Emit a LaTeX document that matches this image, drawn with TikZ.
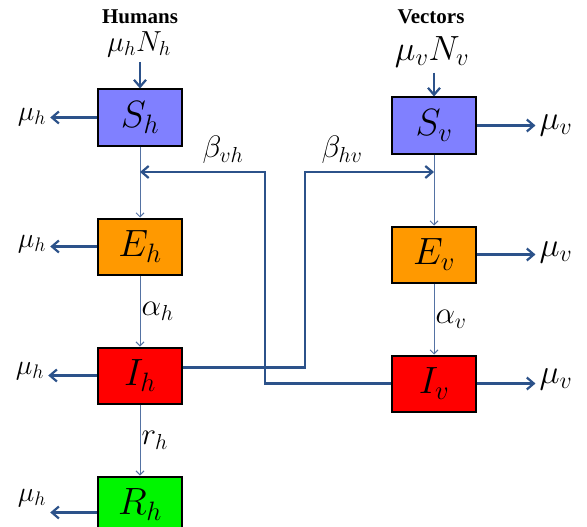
\documentclass[tikz,border=0pt]{standalone}
\usepackage{fix-cm}
\usepackage{fontspec}
\newfontfamily\titlefont{Liberation Serif}
\usetikzlibrary{arrows.meta,positioning}
\definecolor{flowblue}{RGB}{44,82,138}
\definecolor{thinblue}{RGB}{84,114,163}
\definecolor{suscblue}{RGB}{128,128,255}
\definecolor{expoorange}{RGB}{255,153,0}
\definecolor{infred}{RGB}{255,0,0}
\definecolor{recgreen}{RGB}{0,245,0}
\begin{document}
\begin{tikzpicture}[
    x=1pt, y=-1pt,
    node distance=71pt,
    >={Straight Barb[length=7pt,width=12pt]},
    comp/.style={
        draw=black,
        line width=2pt,
        minimum width=84pt,
        minimum height=56pt,
        inner sep=0pt,
        font=\fontsize{38}{40}\selectfont
    },
    flow/.style={->, line width=2.2pt, flowblue},
    pass/.style={->, line width=1pt, thinblue,
        >={Straight Barb[length=4pt,width=8pt]}},
    lbl/.style={inner sep=4pt, text=black, font=\fontsize{31}{33}\selectfont},
    title/.style={font=\titlefont\bfseries\fontsize{21}{22}\selectfont}
]
\useasboundingbox (0,0) rectangle (587,527);

% titles
\node[title] (hum) at (140,17) {Humans};
\node[title] (vec) at (431,17) {Vectors};

% human compartments
\node[comp, fill=suscblue] (Sh) at (140,117.5) {$S_h$};
\node[comp, fill=expoorange, below=of Sh] (Eh) {$E_h$};
\node[comp, fill=infred, below=of Eh] (Ih) {$I_h$};
\node[comp, fill=recgreen, below=of Ih] (Rh) {$R_h$};

% vector compartments
\node[comp, fill=suscblue] (Sv) at (434,125.5) {$S_v$};
\node[comp, fill=expoorange, below=of Sv] (Ev) {$E_v$};
\node[comp, fill=infred, below=of Ev] (Iv) {$I_v$};

% births
\node[lbl, inner sep=5pt, font=\fontsize{29}{31}\selectfont] (inh) at (139,44) {$\mu_hN_h$};
\node[lbl, inner sep=5pt, font=\fontsize{35}{36}\selectfont] (inv) at (432,52) {$\mu_vN_v$};
\draw[flow] (inh.south -| Sh) -- (Sh);
\draw[flow] (inv.south -| Sv) -- (Sv);

% deaths
\node[lbl, font=\fontsize{28}{30}\selectfont] (dSh) at (32,117) {$\mu_h$};
\node[lbl, font=\fontsize{28}{30}\selectfont] (dEh) at (32,244) {$\mu_h$};
\node[lbl, font=\fontsize{28}{30}\selectfont] (dIh) at (30,371) {$\mu_h$};
\node[lbl, font=\fontsize{28}{30}\selectfont] (dRh) at (32,498) {$\mu_h$};
\draw[flow] (Sh.west) -- (Sh.west -| dSh.east);
\draw[flow] (Eh.west) -- (Eh.west -| dEh.east);
\draw[flow] (Ih.west) -- (Ih.west -| dIh.east);
\draw[flow] ([yshift=-8pt]Rh.west) -- ([yshift=-8pt]Rh.west -| dRh.east);

\node[lbl, font=\fontsize{34}{36}\selectfont] (dSv) at (556,125) {$\mu_v$};
\node[lbl, font=\fontsize{34}{36}\selectfont] (dEv) at (556,252) {$\mu_v$};
\node[lbl, font=\fontsize{34}{36}\selectfont] (dIv) at (556,379) {$\mu_v$};
\draw[flow] (Sv.east) -- (Sv.east -| dSv.west);
\draw[flow] (Ev.east) -- (Ev.east -| dEv.west);
\draw[flow] (Iv.east) -- (Iv.east -| dIv.west);

% progression
\draw[pass] (Sh) -- (Eh);
\draw[pass] (Eh) -- node[lbl, right, inner sep=1pt] {$\alpha_h$} (Ih);
\draw[pass] (Ih) -- node[lbl, right, inner sep=1pt] {$r_h$} (Rh);
\draw[pass] (Sv) -- (Ev);
\draw[pass] (Ev) -- node[lbl, right, inner sep=1pt] {$\alpha_v$} (Iv);

% cross infection
\coordinate (vhturn) at (265,172);
\coordinate (hvturn) at (305,172);
\draw[flow] (Iv.west) -| (vhturn) -- (vhturn -| Sh);
\draw[flow] ([yshift=8pt]Ih.east) -| (hvturn) -- (hvturn -| Sv);
\node[lbl] (bvh) at (223,150) {$\beta_{vh}$};
\node[lbl] (bhv) at (342,150) {$\beta_{hv}$};

\end{tikzpicture}
\end{document}
